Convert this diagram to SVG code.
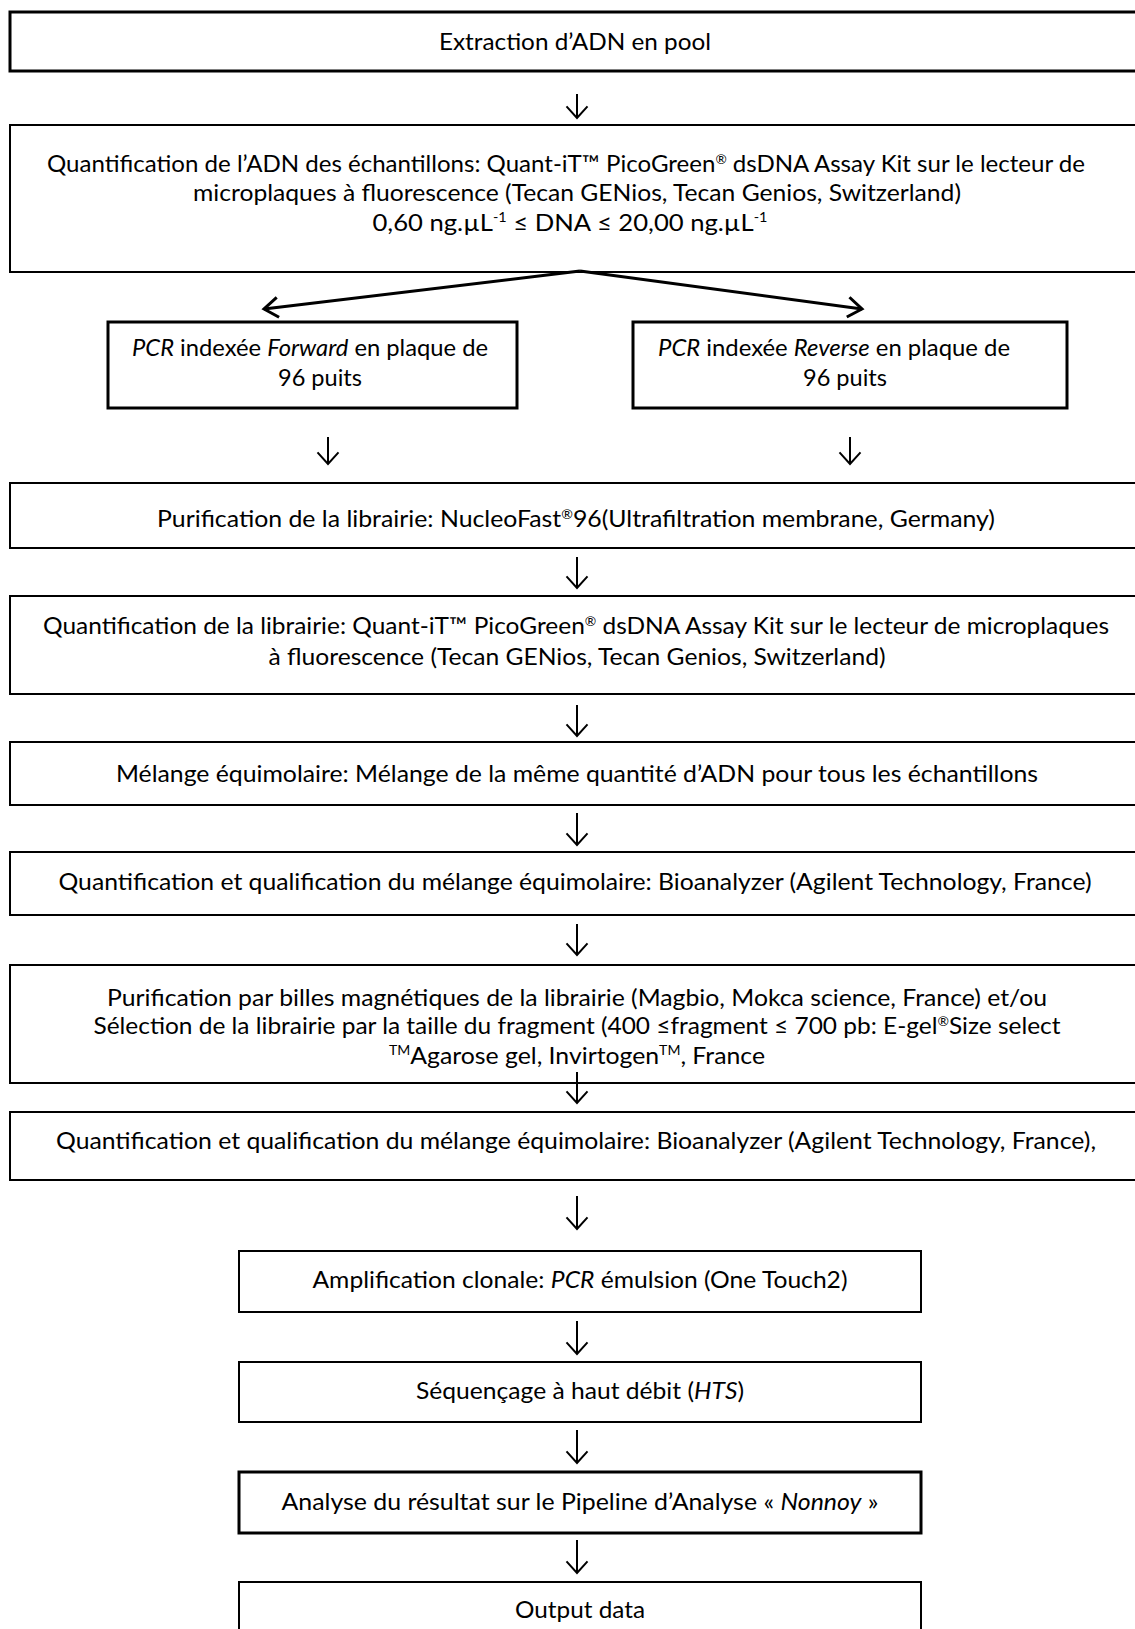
<svg xmlns="http://www.w3.org/2000/svg" width="1135" height="1629" viewBox="0 0 1135 1629">
<defs>
<marker id="ah" viewBox="-2 -2 16 25" refX="11.7" refY="10.5" markerWidth="16" markerHeight="25" markerUnits="userSpaceOnUse" orient="auto">
<polyline points="0,0 11.7,10.5 0,21" fill="none" stroke="#000" stroke-width="2"/>
</marker>
<marker id="ah2" viewBox="-3 -3 21 26" refX="14" refY="10" markerWidth="21" markerHeight="26" markerUnits="userSpaceOnUse" orient="auto">
<polyline points="0,0 14,10 0,20" fill="none" stroke="#000" stroke-width="3"/>
</marker>
</defs>
<style>
rect{fill:#fff;stroke:#000;stroke-width:2}
.thick{stroke-width:3}
text{font-family:Lato,"Open Sans","Liberation Sans",sans-serif;font-size:23px;fill:#000;text-anchor:middle}
.i{font-style:italic}
.sup{font-size:13px}
.arr{stroke:#000;stroke-width:2;fill:none;marker-end:url(#ah)}
.div{stroke:#000;stroke-width:3;fill:none;marker-end:url(#ah2)}
</style>
<rect width="1135" height="1629" style="fill:#fff;stroke:none"/>
<g id="n1"><rect class="thick" x="10" y="12" width="1135" height="59"/><text x="575" y="50" textLength="272" lengthAdjust="spacingAndGlyphs">Extraction d’ADN en pool</text></g>
<g id="n2"><rect x="10" y="125" width="1135" height="147"/>
<text x="566" y="172" textLength="1038" lengthAdjust="spacingAndGlyphs">Quantification de l’ADN des échantillons: Quant-iT™ PicoGreen<tspan class="sup" dy="-8">®</tspan><tspan dy="8"> dsDNA Assay Kit sur le lecteur de</tspan></text>
<text x="577" y="201" textLength="768" lengthAdjust="spacingAndGlyphs">microplaques à fluorescence (Tecan GENios, Tecan Genios, Switzerland)</text>
<text x="570" y="231" textLength="395" lengthAdjust="spacingAndGlyphs">0,60 ng.µL<tspan class="sup" dy="-9">-1</tspan><tspan dy="9"> ≤ DNA ≤ 20,00 ng.µL</tspan><tspan class="sup" dy="-9">-1</tspan></text></g>
<g id="n3"><rect class="thick" x="108" y="322" width="409" height="86"/>
<text x="310" y="356" textLength="356" lengthAdjust="spacingAndGlyphs"><tspan class="i">PCR</tspan> indexée <tspan class="i">Forward</tspan> en plaque de</text>
<text x="320" y="386" textLength="84" lengthAdjust="spacingAndGlyphs">96 puits</text></g>
<g id="n4"><rect class="thick" x="633" y="322" width="434" height="86"/>
<text x="834" y="356" textLength="352" lengthAdjust="spacingAndGlyphs"><tspan class="i">PCR</tspan> indexée <tspan class="i">Reverse</tspan> en plaque de</text>
<text x="845" y="386" textLength="84" lengthAdjust="spacingAndGlyphs">96 puits</text></g>
<g id="n5"><rect x="10" y="483" width="1135" height="65"/>
<text x="576" y="527" textLength="838" lengthAdjust="spacingAndGlyphs">Purification de la librairie: NucleoFast<tspan class="sup" dy="-8">®</tspan><tspan dy="8">96(Ultrafiltration membrane, Germany)</tspan></text></g>
<g id="n6"><rect x="10" y="596" width="1135" height="98"/>
<text x="576" y="634" textLength="1066" lengthAdjust="spacingAndGlyphs">Quantification de la librairie: Quant-iT™ PicoGreen<tspan class="sup" dy="-8">®</tspan><tspan dy="8"> dsDNA Assay Kit sur le lecteur de microplaques</tspan></text>
<text x="577" y="665" textLength="617" lengthAdjust="spacingAndGlyphs">à fluorescence (Tecan GENios, Tecan Genios, Switzerland)</text></g>
<g id="n7"><rect x="10" y="742" width="1135" height="63"/>
<text x="577" y="782" textLength="922" lengthAdjust="spacingAndGlyphs">Mélange équimolaire: Mélange de la même quantité d’ADN pour tous les échantillons</text></g>
<g id="n8"><rect x="10" y="852" width="1135" height="63"/>
<text x="575" y="890" textLength="1033" lengthAdjust="spacingAndGlyphs">Quantification et qualification du mélange équimolaire: Bioanalyzer (Agilent Technology, France)</text></g>
<g id="n9"><rect x="10" y="965" width="1135" height="118"/>
<text x="577" y="1006" textLength="940" lengthAdjust="spacingAndGlyphs">Purification par billes magnétiques de la librairie (Magbio, Mokca science, France) et/ou</text>
<text x="577" y="1034" textLength="967" lengthAdjust="spacingAndGlyphs">Sélection de la librairie par la taille du fragment (400 ≤fragment ≤ 700 pb: E-gel<tspan class="sup" dy="-8">®</tspan><tspan dy="8">Size select</tspan></text>
<text x="577" y="1064" textLength="376" lengthAdjust="spacingAndGlyphs"><tspan class="sup" dy="-9">TM</tspan><tspan dy="9">Agarose gel, Invirtogen</tspan><tspan class="sup" dy="-9">TM</tspan><tspan dy="9">, France</tspan></text></g>
<g id="n10"><rect x="10" y="1112" width="1135" height="68"/>
<text x="576" y="1149" textLength="1040" lengthAdjust="spacingAndGlyphs">Quantification et qualification du mélange équimolaire: Bioanalyzer (Agilent Technology, France),</text></g>
<g id="n11"><rect x="239" y="1251" width="682" height="61"/>
<text x="580" y="1288" textLength="535" lengthAdjust="spacingAndGlyphs">Amplification clonale: <tspan class="i">PCR</tspan> émulsion (One Touch2)</text></g>
<g id="n12"><rect x="239" y="1362" width="682" height="60"/>
<text x="580" y="1399" textLength="328" lengthAdjust="spacingAndGlyphs">Séquençage à haut débit (<tspan class="i">HTS</tspan>)</text></g>
<g id="n13"><rect class="thick" x="239" y="1472" width="682" height="61"/>
<text x="580" y="1510" textLength="597" lengthAdjust="spacingAndGlyphs">Analyse du résultat sur le Pipeline d’Analyse « <tspan class="i">Nonnoy</tspan> »</text></g>
<g id="n14"><rect x="239" y="1582" width="682" height="60"/>
<text x="580" y="1618" textLength="130" lengthAdjust="spacingAndGlyphs">Output data</text></g>
<g id="connectors">
<line class="arr" x1="577" y1="94" x2="577" y2="118"/>
<line class="div" x1="580" y1="271" x2="264" y2="309"/>
<line class="div" x1="580" y1="271" x2="862" y2="309"/>
<line class="arr" x1="328" y1="437" x2="328" y2="464"/>
<line class="arr" x1="850" y1="437" x2="850" y2="464"/>
<line class="arr" x1="577" y1="557" x2="577" y2="588"/>
<line class="arr" x1="577" y1="705" x2="577" y2="736"/>
<line class="arr" x1="577" y1="813" x2="577" y2="845"/>
<line class="arr" x1="577" y1="924" x2="577" y2="955"/>
<line class="arr" x1="577" y1="1072" x2="577" y2="1103"/>
<line class="arr" x1="577" y1="1196" x2="577" y2="1229"/>
<line class="arr" x1="577" y1="1321" x2="577" y2="1354"/>
<line class="arr" x1="577" y1="1430" x2="577" y2="1463"/>
<line class="arr" x1="577" y1="1540" x2="577" y2="1573"/>
</g>
</svg>
